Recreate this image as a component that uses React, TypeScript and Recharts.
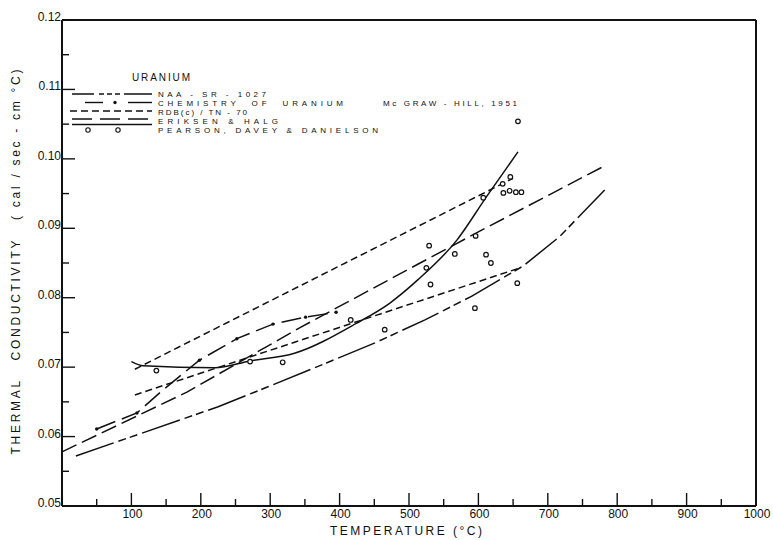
import React from 'react';
import { ComposedChart, Line, Scatter, XAxis, YAxis } from 'recharts';

// Uranium thermal conductivity.
// t = temperature (°C), k = cal/sec-cm-°C

const naaT = [20, 225, 295, 381, 451, 523, 590, 665, 717, 782];
const naaK = [0.0572, 0.0643, 0.0671, 0.0706, 0.0735, 0.0768, 0.0802, 0.0846, 0.0888, 0.0955];

const chemT = [50, 108, 143, 198, 252, 304, 351, 395];
const chemK = [0.0611, 0.0634, 0.0665, 0.071, 0.0741, 0.0762, 0.0772, 0.0779];
// points on the chemistry curve that carry a dot
const chemDotT = [50, 108, 198, 252, 304, 351, 395];
const chemDotK = [0.0611, 0.0634, 0.071, 0.0741, 0.0762, 0.0772, 0.0779];

// RDB(c)/TN-70 gives two bounding lines
const rdbUpperT = [105, 650];
const rdbUpperK = [0.0697, 0.0972];
const rdbLowerT = [105, 660];
const rdbLowerK = [0.066, 0.0843];

const eriksenT = [0, 180, 343, 516, 606, 782];
const eriksenK = [0.0578, 0.0664, 0.0757, 0.085, 0.0898, 0.099];

const pearsonT = [100, 117, 220, 271, 335, 424, 472, 513, 569, 612, 657];
const pearsonK = [0.0708, 0.0702, 0.0699, 0.0709, 0.072, 0.0763, 0.0792, 0.0826, 0.0883, 0.0946, 0.101];

// measured points (open circles)
const pointT = [136, 271, 318, 416, 465, 525, 529, 531, 566, 595, 596, 607, 611, 618, 635, 636, 645, 646, 654, 656, 657, 662];
const pointK = [0.0695, 0.0708, 0.0707, 0.0768, 0.0754, 0.0843, 0.0875, 0.0819, 0.0863, 0.0785, 0.0889, 0.0944, 0.0862, 0.085, 0.0964, 0.0951, 0.0954, 0.0974, 0.0952, 0.0821, 0.1054, 0.0952];

const xTicks = [0, 50, 100, 150, 200, 250, 300, 350, 400, 450, 500, 550, 600, 650, 700, 750, 800, 850, 900, 950, 1000];
const yTicks = [0.05, 0.055, 0.06, 0.065, 0.07, 0.075, 0.08, 0.085, 0.09, 0.095, 0.1, 0.105, 0.11, 0.115, 0.12];

const legendTitle = 'URANIUM';
const legendLabels = ['NAA - SR - 1027', 'CHEMISTRY  OF  URANIUM', 'RDB(c) / TN - 70', 'ERIKSEN & HALG', 'PEARSON, DAVEY & DANIELSON'];
const sourceNote = 'Mc GRAW - HILL, 1951';
const xTitle = 'TEMPERATURE (°C)';
const yTitle = 'THERMAL   CONDUCTIVITY   ( cal / sec - cm °C)';

const pts = (ts: number[], ks: number[]) => ts.map((t, i) => ({ t, k: ks[i] }));

const FONT = '"Liberation Sans", Arial, sans-serif';
const INK = '#111';

const NAA_DASH = '40 5 8 4 8 5';
const CHEM_DASH = '20 7';
const RDB_DASH = '7 4';
const ERIK_DASH = '16 6';

const majorX = (v: number) => v % 100 === 0;
const majorY = (v: number) => Math.round(v * 1000) % 10 === 0;

const BottomTick = ({ x, y, payload }: any) => {
  const v = payload.value;
  return (
    <g>
      <line x1={x} y1={y} x2={x} y2={y - (majorX(v) ? 13 : 7)} stroke={INK} strokeWidth={1.4} />
      {majorX(v) && v > 0 && (
        <text x={x + 1} y={y + 12} textAnchor="middle" fontSize={12} fontFamily={FONT} fill={INK}>
          {v}
        </text>
      )}
    </g>
  );
};

const TopTick = ({ x, y, payload }: any) => (
  <line x1={x} y1={y} x2={x} y2={y + (majorX(payload.value) ? 13 : 7)} stroke={INK} strokeWidth={1.4} />
);

const LeftTick = ({ x, y, payload }: any) => {
  const v = payload.value;
  return (
    <g>
      <line x1={x} y1={y} x2={x + (majorY(v) ? 13 : 7)} y2={y} stroke={INK} strokeWidth={1.4} />
      {majorY(v) && (
        <text x={x - 1} y={y + 1} textAnchor="end" fontSize={12} fontFamily={FONT} fill={INK}>
          {v.toFixed(2)}
        </text>
      )}
    </g>
  );
};

const RightTick = ({ x, y, payload }: any) => (
  <line x1={x} y1={y} x2={x - (majorY(payload.value) ? 13 : 7)} y2={y} stroke={INK} strokeWidth={1.4} />
);

const OpenCircle = (p: any) => <circle cx={p.cx} cy={p.cy} r={2.3} fill="#fff" stroke={INK} strokeWidth={1.2} />;
const SmallDot = (p: any) => <circle cx={p.cx} cy={p.cy} r={1.7} fill={INK} />;

const axisLine = { stroke: INK, strokeWidth: 2 };

const Overlay = () => {
  const rowY = [93.5, 102.5, 111.5, 120.5, 129.5];
  const widths = [108, 185, 89, 120, 220];
  return (
    <svg width={773} height={540} style={{ position: 'absolute', left: 0, top: 0, pointerEvents: 'none' }}>
      <g fontFamily={FONT} fill={INK}>
        <text x={132} y={81} fontSize={10} textLength={58}>{legendTitle}</text>
        {legendLabels.map((label, i) => (
          <text key={label} x={158} y={rowY[i] + 3} fontSize={8} textLength={widths[i]} style={{ whiteSpace: 'pre' }}>
            {label}
          </text>
        ))}
        <text x={383} y={rowY[1] + 3} fontSize={8} textLength={134} style={{ whiteSpace: 'pre' }}>{sourceNote}</text>
        <text x={406} y={535} fontSize={12} textAnchor="middle" textLength={152}>{xTitle}</text>
        <text
          transform="translate(20 262) rotate(-90)"
          x={0}
          y={0}
          fontSize={12}
          textAnchor="middle"
          textLength={385}
          style={{ whiteSpace: 'pre' }}
        >
          {yTitle}
        </text>
      </g>
      <g stroke={INK} strokeWidth={1.4} fill="none">
        <line x1={72} y1={94} x2={152} y2={94} strokeDasharray="22 5 5 3 5 3 5 4 30" />
        <line x1={85} y1={102.5} x2={103} y2={102.5} />
        <line x1={128} y1={102.5} x2={152} y2={102.5} />
        <line x1={70} y1={111} x2={152} y2={111} strokeDasharray={RDB_DASH} />
        <line x1={72} y1={119} x2={152} y2={119} strokeDasharray="20 8" />
        <line x1={72} y1={124.5} x2={152} y2={124.5} />
        <circle cx={88} cy={130} r={2.2} fill="#fff" strokeWidth={1.1} />
        <circle cx={118} cy={130} r={2.2} fill="#fff" strokeWidth={1.1} />
      </g>
      <circle cx={115} cy={102.5} r={1.7} fill={INK} />
    </svg>
  );
};

export default function App() {
  return (
    <div style={{ position: 'absolute', left: 0, top: 0, width: 773, height: 540, background: '#fff' }}>
      <ComposedChart width={773} height={540} margin={{ top: 0, right: 0, bottom: 0, left: 0 }}>
        <XAxis
          dataKey="t"
          type="number"
          domain={[0, 1000]}
          ticks={xTicks}
          interval={0}
          height={34}
          tickSize={0}
          tickMargin={0}
          tickLine={false}
          axisLine={axisLine}
          tick={<BottomTick />}
        />
        <XAxis
          xAxisId="top"
          orientation="top"
          dataKey="t"
          type="number"
          domain={[0, 1000]}
          ticks={xTicks}
          interval={0}
          height={20}
          tickSize={0}
          tickMargin={0}
          tickLine={false}
          axisLine={axisLine}
          tick={<TopTick />}
        />
        <YAxis
          dataKey="k"
          type="number"
          domain={[0.05, 0.12]}
          ticks={yTicks}
          interval={0}
          width={62}
          tickSize={0}
          tickMargin={0}
          tickLine={false}
          axisLine={axisLine}
          tick={<LeftTick />}
        />
        <YAxis
          yAxisId="right"
          orientation="right"
          dataKey="k"
          type="number"
          domain={[0.05, 0.12]}
          ticks={yTicks}
          interval={0}
          width={17}
          tickSize={0}
          tickMargin={0}
          tickLine={false}
          axisLine={axisLine}
          tick={<RightTick />}
        />

        <Line data={pts(naaT, naaK)} dataKey="k" type="linear" stroke={INK} strokeWidth={1.5} strokeDasharray={NAA_DASH} dot={false} isAnimationActive={false} />
        <Line data={pts(chemT, chemK)} dataKey="k" type="linear" stroke={INK} strokeWidth={1.5} strokeDasharray={CHEM_DASH} dot={false} isAnimationActive={false} />
        <Scatter data={pts(chemDotT, chemDotK)} dataKey="k" shape={SmallDot} isAnimationActive={false} />
        <Line data={pts(rdbUpperT, rdbUpperK)} dataKey="k" type="linear" stroke={INK} strokeWidth={1.5} strokeDasharray={RDB_DASH} dot={false} isAnimationActive={false} />
        <Line data={pts(rdbLowerT, rdbLowerK)} dataKey="k" type="linear" stroke={INK} strokeWidth={1.5} strokeDasharray={RDB_DASH} dot={false} isAnimationActive={false} />
        <Line data={pts(eriksenT, eriksenK)} dataKey="k" type="linear" stroke={INK} strokeWidth={1.5} strokeDasharray={ERIK_DASH} dot={false} isAnimationActive={false} />
        <Line data={pts(pearsonT, pearsonK)} dataKey="k" type="monotone" stroke={INK} strokeWidth={1.5} dot={false} isAnimationActive={false} />
        <Scatter data={pts(pointT, pointK)} dataKey="k" shape={OpenCircle} isAnimationActive={false} />
      </ComposedChart>
      <Overlay />
    </div>
  );
}
